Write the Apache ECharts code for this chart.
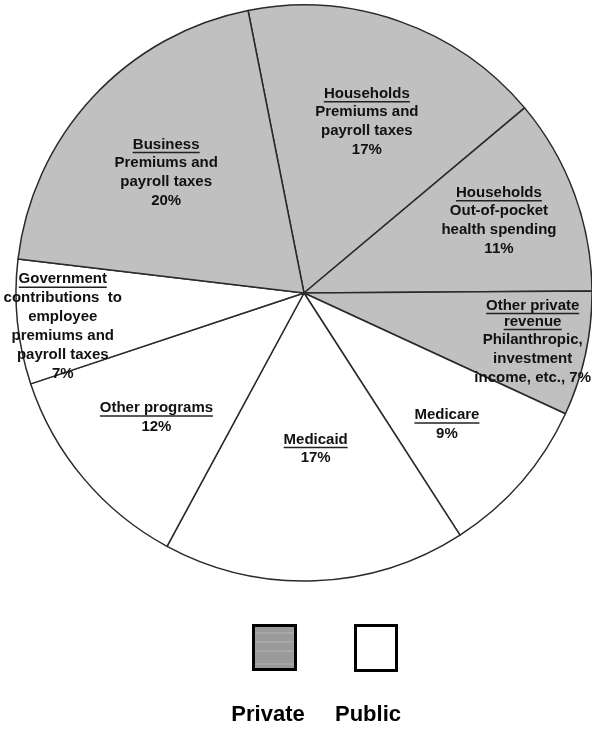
<!DOCTYPE html>
<html>
<head>
<meta charset="utf-8">
<script src="https://cdn.jsdelivr.net/npm/echarts@6/dist/echarts.min.js"></script>
<style>
  html, body { margin: 0; padding: 0; background: #fff; }
  #chart { width: 592px; height: 729px; }
</style>
</head>
<body>
<div id="chart"></div>
<script>
// slices, clockwise from top
const categories = ['Households premiums', 'Households out-of-pocket', 'Other private revenue', 'Medicare', 'Medicaid', 'Other programs', 'Government contributions', 'Business premiums'];
const values = [17, 11, 7, 9, 17, 12, 7, 20];
const sectors = ['Private', 'Private', 'Private', 'Public', 'Public', 'Public', 'Public', 'Private'];
const titles = [['Households'], ['Households'], ['Other private', 'revenue'], ['Medicare'], ['Medicaid'], ['Other programs'], ['Government'], ['Business']];
const notes = [
  ['Premiums and', 'payroll taxes'],
  ['Out-of-pocket', 'health spending'],
  ['Philanthropic,', 'investment', 'income, etc., '],
  [], [], [],
  ['contributions  to', 'employee', 'premiums and', 'payroll taxes'],
  ['Premiums and', 'payroll taxes']
];
const legendNames = ['Private', 'Public'];

// label nudges from the default inside position
const labelShift = [[14, -31], [57, -20], [85, 19], [32, 36], [6, 10], [-35, 31], [-95, 20], [-30, -19]];

const FONT = 'bold 15px "Liberation Sans", Arial, sans-serif';
const ctx = document.createElement('canvas').getContext('2d');
ctx.font = FONT;
const textW = s => Math.round(ctx.measureText(s).width);

const fillOf = { Private: '#c0c0c0', Public: '#ffffff' };

const data = categories.map((name, i) => {
  const rich = {
    t: { fontFamily: '"Liberation Sans", Arial', fontWeight: 'bold', fontSize: 15, lineHeight: 14, color: '#111' },
    b: { fontFamily: '"Liberation Sans", Arial', fontWeight: 'bold', fontSize: 15, lineHeight: 19, color: '#111' }
  };
  const rows = [];
  titles[i].forEach((t, k) => {
    rich['u' + k] = { width: textW(t), height: 1.5, lineHeight: 2, fontSize: 1, backgroundColor: '#222' };
    rows.push('{t|' + t + '}');
    rows.push('{u' + k + '| }');
  });
  const n = notes[i].slice();
  if (i === 2) {
    n[n.length - 1] += values[i] + '%';
  }
  n.forEach(s => rows.push('{b|' + s + '}'));
  if (i !== 2) rows.push('{b|' + values[i] + '%}');
  return {
    name: name,
    value: values[i],
    itemStyle: { color: fillOf[sectors[i]] },
    label: { formatter: rows.join('\n'), rich: rich }
  };
});

const chart = echarts.init(document.getElementById('chart'));
chart.setOption({
  animation: false,
  series: [{
    type: 'pie',
    center: [304, 293],
    radius: 288,
    startAngle: 101.2,
    clockwise: true,
    avoidLabelOverlap: false,
    silent: true,
    data: data,
    itemStyle: { borderColor: '#2a2a2a', borderWidth: 1.5 },
    label: {
      show: true,
      position: 'inside',
      rotate: 0,
      align: 'center',
      color: '#111',
      textBorderWidth: 0
    },
    labelLine: { show: false },
    labelLayout: p => ({ dx: labelShift[p.dataIndex][0], dy: labelShift[p.dataIndex][1] })
  }],
  graphic: [
    { type: 'rect', shape: { x: 253.5, y: 625.5, width: 42, height: 44 }, style: { fill: '#9a9a9a', stroke: '#000', lineWidth: 3 } },
    { type: 'line', shape: { x1: 255, y1: 633, x2: 294, y2: 633 }, style: { stroke: '#b4b4b4', lineWidth: 1 } },
    { type: 'line', shape: { x1: 255, y1: 642, x2: 294, y2: 642 }, style: { stroke: '#b4b4b4', lineWidth: 1 } },
    { type: 'line', shape: { x1: 255, y1: 651, x2: 294, y2: 651 }, style: { stroke: '#b4b4b4', lineWidth: 1 } },
    { type: 'line', shape: { x1: 255, y1: 664, x2: 294, y2: 664 }, style: { stroke: '#b4b4b4', lineWidth: 1 } },
    { type: 'rect', shape: { x: 355.5, y: 625.5, width: 41, height: 45 }, style: { fill: '#fff', stroke: '#000', lineWidth: 3 } },
    { type: 'text', x: 268, y: 715, style: { text: legendNames[0], font: 'bold 22px "Liberation Sans", Arial', fill: '#000', align: 'center', verticalAlign: 'middle' } },
    { type: 'text', x: 368, y: 715, style: { text: legendNames[1], font: 'bold 22px "Liberation Sans", Arial', fill: '#000', align: 'center', verticalAlign: 'middle' } }
  ]
});
</script>
</body>
</html>
